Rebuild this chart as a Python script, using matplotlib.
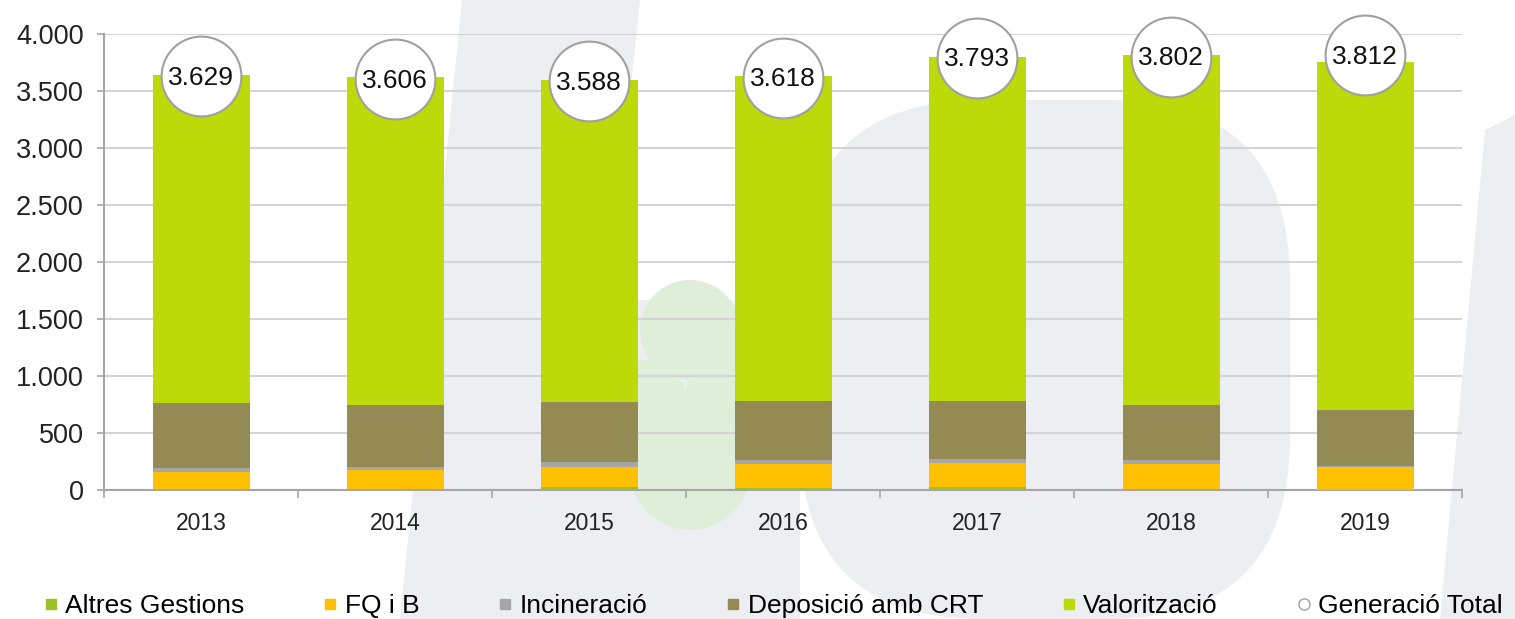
import matplotlib
matplotlib.use("Agg")
import matplotlib.pyplot as plt
from matplotlib.lines import Line2D
from matplotlib.patches import Polygon, FancyBboxPatch, Ellipse
from matplotlib.ticker import FuncFormatter, FixedLocator
import numpy as np

plt.rcParams['font.family'] = ['Liberation Sans', 'DejaVu Sans']

years = ['2013', '2014', '2015', '2016', '2017', '2018', '2019']
altres = [10, 10, 25, 15, 29, 5, 3]
fq_i_b = [150, 165, 180, 213, 211, 223, 201]
incineracio = [30, 24, 44, 35, 35, 35, 5]
deposicio = [570, 547, 520, 518, 506, 483, 493]
valoritzacio = [2880, 2877, 2827, 2851, 3017, 3070, 3052]
generacio_total = [3629, 3606, 3588, 3618, 3793, 3802, 3812]

series = [
    ('Altres Gestions', altres, '#9cc125'),
    ('FQ i B', fq_i_b, '#ffc000'),
    ('Incineració', incineracio, '#a6a6a6'),
    ('Deposició amb CRT', deposicio, '#948a54'),
    ('Valorització', valoritzacio, '#bcd90a'),
]

W, H = 1515, 619
fig = plt.figure(figsize=(W / 100, H / 100), dpi=100)


def px(pts):
    return [(x / W, 1 - y / H) for x, y in pts]


# faint watermark in the background
wm = '#eceef1'
fig.add_artist(Polygon(px([(462, 0), (640, 0), (575, 619), (400, 619)]),
                       transform=fig.transFigure, fc=wm, ec='none', zorder=-5))
fig.add_artist(FancyBboxPatch((800 / W, 0), 490 / W, 1 - 100 / H,
                              boxstyle='round,pad=0,rounding_size=0.12',
                              transform=fig.transFigure, fc=wm, ec='none',
                              zorder=-5, mutation_aspect=W / H))
fig.add_artist(Polygon(px([(575, 300), (800, 300), (800, 619), (545, 619)]),
                       transform=fig.transFigure, fc=wm, ec='none', zorder=-5))
fig.add_artist(Polygon(px([(1485, 130), (1515, 115), (1515, 619), (1440, 619)]),
                       transform=fig.transFigure, fc=wm, ec='none', zorder=-5))
for cx, cy, r in [(690, 330, 50), (640, 410, 50), (735, 400, 50), (690, 470, 60)]:
    fig.add_artist(Ellipse((cx / W, 1 - cy / H), 2 * r / W, 2 * r / H,
                           transform=fig.transFigure, fc='#deeed9', ec='none',
                           zorder=-4))

ax = fig.add_axes([104 / W, 1 - 490 / H, (1462 - 104) / W, (490 - 34) / H])
ax.patch.set_alpha(0)

x = np.arange(len(years))
bottom = np.zeros(len(years))
for name, vals, col in series:
    ax.bar(x, vals, width=0.5, bottom=bottom, color=col, zorder=3)
    bottom += np.array(vals)

ax.scatter(x, generacio_total, s=3300, facecolor='white', edgecolor='#a0a0a0',
           linewidth=1.5, zorder=5, clip_on=False)
for xi, v in zip(x, generacio_total):
    ax.text(xi, v - 15, f'{v:,}'.replace(',', '.'), ha='center', va='center',
            fontsize=19, color='#111111', zorder=6)

ax.set_xlim(-0.5, len(years) - 0.5)
ax.set_ylim(0, 4000)
ax.set_yticks(np.arange(0, 4001, 500))
ax.yaxis.set_major_formatter(FuncFormatter(lambda v, p: f'{int(v):,}'.replace(',', '.')))
ax.set_xticks(x)
ax.set_xticklabels(years)
ax.xaxis.set_minor_locator(FixedLocator(np.arange(-0.5, len(years), 1.0)))
ax.tick_params(axis='x', which='major', length=0, labelsize=16.5, pad=16, colors='#222222')
ax.tick_params(axis='x', which='minor', length=6, color='#a6a6a6', width=1.2)
ax.tick_params(axis='y', length=5, color='#a6a6a6', width=1.2, labelsize=19.5,
               pad=9.5, labelcolor='#222222')
ax.grid(axis='y', color='#d4d4d4', linewidth=1.5, zorder=0)
for s in ['top', 'right']:
    ax.spines[s].set_visible(False)
for s in ['left', 'bottom']:
    ax.spines[s].set_color('#a6a6a6')
    ax.spines[s].set_linewidth(1.5)

handles = [Line2D([], [], ls='none', marker='s', markersize=6.5, color=c,
                  markeredgecolor=c) for _, _, c in series]
handles.append(Line2D([], [], ls='none', marker='o', markersize=8,
                      markerfacecolor='white', markeredgecolor='#a0a0a0'))
labels = [n for n, _, _ in series] + ['Generació Total']
fig.legend(handles, labels, loc='center left', bbox_to_anchor=(44 / W, 1 - 606 / H),
           ncol=6, frameon=False, fontsize=19, handlelength=0.5,
           handletextpad=0.3, columnspacing=3.0, borderaxespad=0, borderpad=0)

fig.savefig('out.png', dpi=100)
